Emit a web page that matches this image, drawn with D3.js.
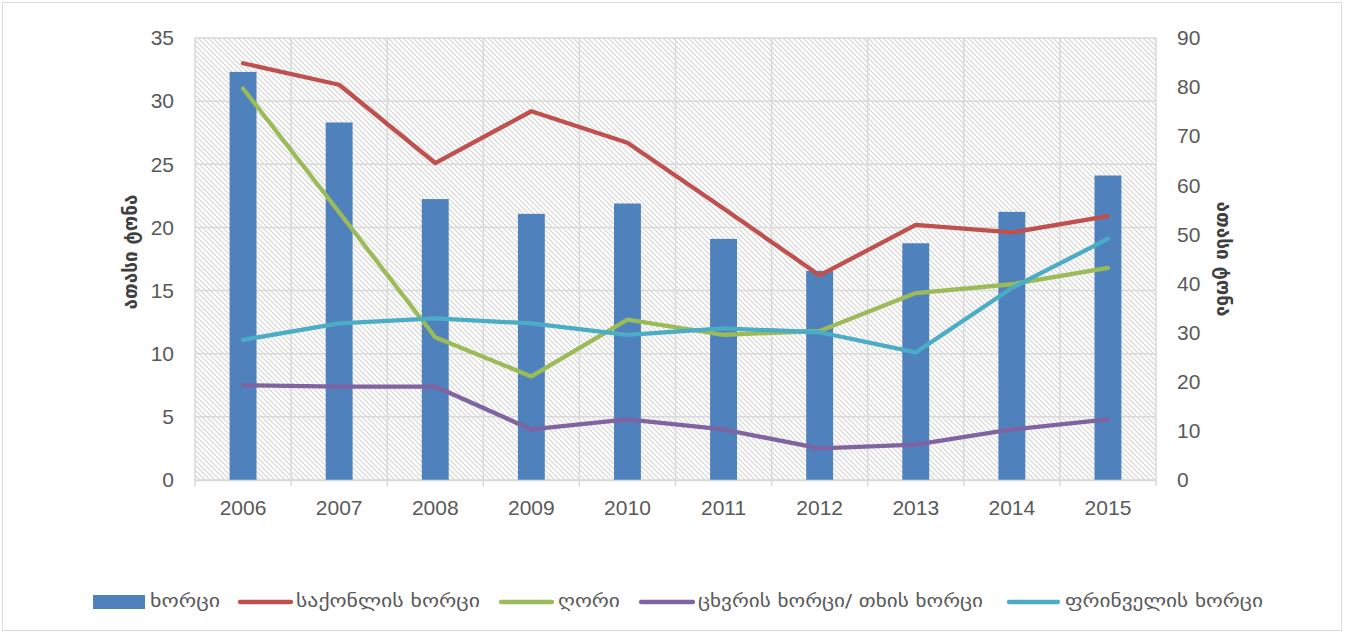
<!DOCTYPE html>
<html>
<head>
<meta charset="utf-8">
<script src="https://cdn.jsdelivr.net/npm/d3@7"></script>
<style>
  html, body { margin: 0; padding: 0; background: #fff; }
  svg { display: block; }
</style>
</head>
<body>
<svg id="chart" width="1345" height="634"></svg>
<script>
// ---- data ----
const years = ["2006","2007","2008","2009","2010","2011","2012","2013","2014","2015"];
const totalMeat = [83.1, 72.8, 57.2, 54.2, 56.3, 49.1, 42.6, 48.2, 54.6, 62.0];   // right axis (bars)
const beef      = [33.0, 31.3, 25.1, 29.2, 26.7, 21.5, 16.2, 20.2, 19.6, 20.9];
const pork      = [31.0, 21.2, 11.3, 8.2, 12.7, 11.5, 11.8, 14.8, 15.5, 16.8];
const mutton    = [7.5, 7.4, 7.4, 4.0, 4.8, 4.0, 2.5, 2.8, 4.0, 4.8];
const poultry   = [11.1, 12.4, 12.8, 12.4, 11.5, 12.0, 11.7, 10.1, 15.2, 19.1];
const leftTicks  = [0, 5, 10, 15, 20, 25, 30, 35];
const rightTicks = [0, 10, 20, 30, 40, 50, 60, 70, 80, 90];
const seriesNames = ["ხორცი", "საქონლის ხორცი", "ღორი", "ცხვრის ხორცი/ თხის ხორცი", "ფრინველის ხორცი"];
const axisTitle = "ათასი ტონა";

// ---- styles / layout ----
const colors = ["#4F81BD", "#C0504D", "#9BBB59", "#8064A2", "#4BACC6"];
const M = { left: 195, right: 1156, top: 38, bottom: 480 };
const numFont = "'Liberation Sans Narrow', 'Arial Narrow', 'Liberation Sans', sans-serif";
const geoFont = "'DejaVu Sans', 'Noto Sans Georgian', sans-serif";
const textColor = "#595959";
const gridColor = "#d9d9d9";

const svg = d3.select("#chart");

// outer border
svg.append("rect").attr("x", 2.5).attr("y", 2.5).attr("width", 1339).attr("height", 628)
  .attr("fill", "#fff").attr("stroke", gridColor).attr("stroke-width", 1);

// hatch pattern
const defs = svg.append("defs");
const pat = defs.append("pattern").attr("id", "hatch").attr("patternUnits", "userSpaceOnUse")
  .attr("width", 5).attr("height", 5);
pat.append("rect").attr("width", 5).attr("height", 5).attr("fill", "#fff");
pat.append("path").attr("d", "M-1,-1 L6,6 M-1,4 L1,6 M4,-1 L6,1")
  .attr("stroke", "#d4d4d4").attr("stroke-width", 1.1);

// scales
const x = d3.scaleBand().domain(years).range([M.left, M.right]).padding(0);
const yL = d3.scaleLinear().domain([0, 35]).range([M.bottom, M.top]);
const yR = d3.scaleLinear().domain([0, 90]).range([M.bottom, M.top]);

// plot background
svg.append("rect").attr("x", M.left).attr("y", M.top)
  .attr("width", M.right - M.left).attr("height", M.bottom - M.top)
  .attr("fill", "url(#hatch)");

// gridlines
const grid = svg.append("g");
grid.selectAll("line.h").data(leftTicks).join("line")
  .attr("x1", M.left).attr("x2", M.right)
  .attr("y1", d => yL(d)).attr("y2", d => yL(d))
  .attr("stroke", gridColor).attr("stroke-width", 1.5);
const bounds = years.map(d => x(d)).concat([M.right]);
grid.selectAll("line.v").data(bounds).join("line")
  .attr("x1", d => d).attr("x2", d => d)
  .attr("y1", M.top).attr("y2", M.bottom + 6)
  .attr("stroke", gridColor).attr("stroke-width", 1.5);

// bars (right axis)
const bw = x.bandwidth() * 0.28;
svg.append("g").selectAll("rect").data(totalMeat).join("rect")
  .attr("x", (d, i) => x(years[i]) + x.bandwidth() / 2 - bw / 2)
  .attr("y", d => yR(d))
  .attr("width", bw)
  .attr("height", d => yR(0) - yR(d))
  .attr("fill", colors[0]);

// lines (left axis)
const lineSeries = [beef, pork, mutton, poultry];
const line = d3.line()
  .x((d, i) => x(years[i]) + x.bandwidth() / 2)
  .y(d => yL(d));
svg.append("g").selectAll("path").data(lineSeries).join("path")
  .attr("d", d => line(d))
  .attr("fill", "none")
  .attr("stroke", (d, i) => colors[i + 1])
  .attr("stroke-width", 4.3)
  .attr("stroke-linejoin", "round")
  .attr("stroke-linecap", "round");

// left axis
const axL = d3.axisLeft(yL).tickValues(leftTicks).tickSize(0).tickPadding(21);
const gL = svg.append("g").attr("transform", `translate(${M.left},0)`).call(axL);
gL.select(".domain").remove();
gL.selectAll("text").attr("font-family", numFont).attr("font-size", 21).attr("fill", textColor);

// right axis
const axR = d3.axisRight(yR).tickValues(rightTicks).tickSize(0).tickPadding(21);
const gR = svg.append("g").attr("transform", `translate(${M.right},0)`).call(axR);
gR.select(".domain").remove();
gR.selectAll("text").attr("font-family", numFont).attr("font-size", 21).attr("fill", textColor);

// bottom axis
const axB = d3.axisBottom(x).tickSize(0).tickPadding(20);
const gB = svg.append("g").attr("transform", `translate(0,${M.bottom})`).call(axB);
gB.select(".domain").attr("stroke", gridColor).attr("stroke-width", 1.5);
gB.selectAll("text").attr("font-family", numFont).attr("font-size", 21).attr("fill", textColor);

// axis titles
svg.append("text")
  .attr("transform", "translate(131,252) rotate(-90)")
  .attr("text-anchor", "middle").attr("dominant-baseline", "middle")
  .attr("font-family", geoFont).attr("font-size", 19).attr("font-weight", "bold")
  .attr("fill", "#404040").text(axisTitle);
svg.append("text")
  .attr("transform", "translate(1222,259) rotate(90)")
  .attr("text-anchor", "middle").attr("dominant-baseline", "middle")
  .attr("font-family", geoFont).attr("font-size", 19).attr("font-weight", "bold")
  .attr("fill", "#404040").text(axisTitle);

// legend
const legendLayout = [
  { sx: 93,  ex: 145,  tx: 150,  tw: 70 },
  { sx: 238, ex: 293,  tx: 296,  tw: 184 },
  { sx: 499, ex: 554,  tx: 558,  tw: 62 },
  { sx: 639, ex: 695,  tx: 698,  tw: 285 },
  { sx: 1007, ex: 1060, tx: 1065, tw: 198 }
];
const ly = 602;
const lg = svg.append("g");
seriesNames.forEach((name, i) => {
  const L = legendLayout[i];
  if (i === 0) {
    lg.append("rect").attr("x", L.sx).attr("y", ly - 7).attr("width", L.ex - L.sx).attr("height", 14)
      .attr("fill", colors[0]);
  } else {
    lg.append("line").attr("x1", L.sx + 2).attr("x2", L.ex - 2).attr("y1", ly).attr("y2", ly)
      .attr("stroke", colors[i]).attr("stroke-width", 4.3).attr("stroke-linecap", "round");
  }
  lg.append("text").attr("x", L.tx).attr("y", ly).attr("dominant-baseline", "middle")
    .attr("font-family", geoFont).attr("font-size", 18).attr("fill", textColor)
    .attr("textLength", L.tw).attr("lengthAdjust", "spacingAndGlyphs")
    .text(name);
});
</script>
</body>
</html>
